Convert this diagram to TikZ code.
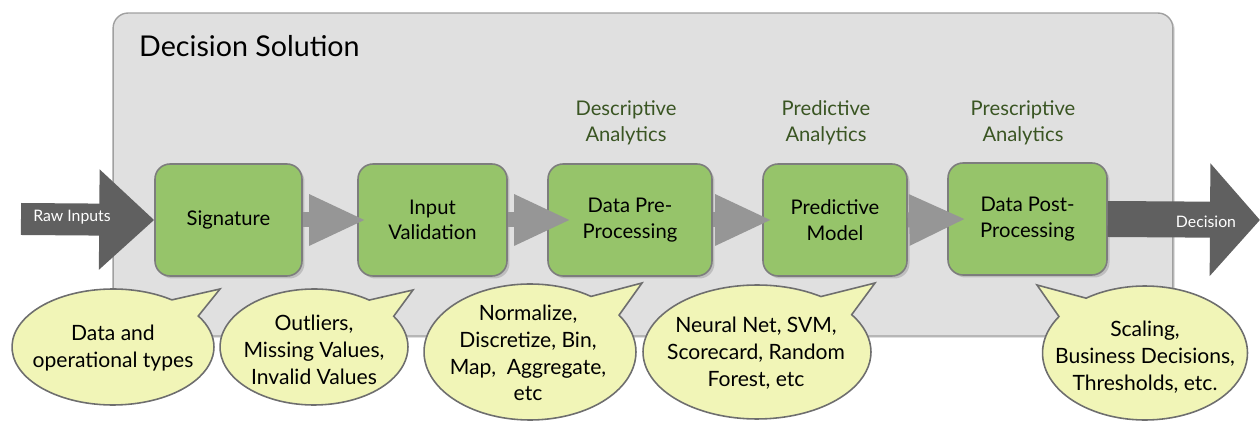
\documentclass[tikz,border=0pt]{standalone}
\usepackage{fontspec}
\setmainfont{Lato}
\usetikzlibrary{arrows.meta,shapes.callouts,shadows}

\definecolor{panelgray}{RGB}{224,224,224}
\definecolor{panelline}{RGB}{160,160,160}
\definecolor{stagegreen}{RGB}{150,196,106}
\definecolor{boxline}{RGB}{125,125,125}
\definecolor{bubblefill}{RGB}{241,245,183}
\definecolor{bubbleline}{RGB}{110,110,110}
\definecolor{darkarrow}{RGB}{96,96,96}
\definecolor{midarrow}{RGB}{150,150,150}
\definecolor{anagreen}{RGB}{58,85,35}

\begin{document}
\begin{tikzpicture}[x=0.02cm,y=-0.02cm,
    panel/.style={draw=panelline,fill=panelgray,rounded corners=0.3cm,line width=0.8pt,
        minimum width=21.2cm,minimum height=6.46cm,
        drop shadow={opacity=0.25,shadow xshift=0.04cm,shadow yshift=-0.04cm}},
    stage/.style={draw=boxline,fill=stagegreen,rounded corners=0.3cm,line width=0.9pt,
        minimum height=2.24cm,align=center,font=\fontsize{11.5}{14.5}\selectfont,
        drop shadow={opacity=0.35,shadow xshift=0.05cm,shadow yshift=-0.05cm}},
    ana/.style={align=center,text=anagreen,font=\fontsize{11.5}{15}\selectfont},
    bubble/.style={ellipse callout,draw=bubbleline,fill=bubblefill,line width=0.9pt,
        inner sep=0pt,callout pointer arc=22},
    bubbletext/.style={align=center,font=\fontsize{12}{15.2}\selectfont},
    flow/.style={draw=midarrow,line width=0.3cm,-{Triangle[length=1.14cm,width=0.94cm]}},
    bigflow/.style={draw=darkarrow},
    biglabel/.style={text=white,font=\fontsize{9}{11}\selectfont}]

    \useasboundingbox (0,0) rectangle (1260,421);

    % Decision solution panel
    \node[panel] (sol) at (643,174.5) {};
    \node[anchor=base west,font=\fontsize{16.3}{20}\selectfont] (title) at (133,57) {Decision Solution};

    % Stages
    \node[stage,minimum width=2.94cm] (sig) at (228.5,220) {Signature};
    \node[stage,minimum width=2.98cm] (val) at (432.5,220) {Input\\Validation};
    \node[stage,minimum width=3.28cm] (pre) at (630,220) {Data Pre-\\Processing};
    \node[stage,minimum width=2.88cm] (mod) at (835,220) {Predictive\\Model};
    \node[stage,minimum width=3.18cm] (post) at (1027.5,219) {Data Post-\\Processing};

    % Analytics labels
    \node[ana] (desc) at (626,123) {Descriptive\\Analytics};
    \node[ana] (pred) at (826,123) {Predictive\\Analytics};
    \node[ana] (presc) at (1023,123) {Prescriptive\\Analytics};

    % Arrows between stages
    \foreach \a/\b/\s in {sig/val/9,val/pre/24,pre/mod/10,mod/post/19}
        \draw[flow] (\a.east) -- ([xshift=\s*0.02cm]\b.west);

    % Raw inputs in, decision out
    \coordinate (in) at (21,219);
    \coordinate (out) at (1260,220);
    \draw[bigflow,line width=0.64cm,-{Triangle[length=1.1cm,width=1.94cm]}] (in) -- (sig.west);
    \draw[bigflow,line width=0.72cm,-{Triangle[length=1.0cm,width=2.2cm]}] (post.east) -- (out);
    \node[biglabel] (raw) at (72,217) {Raw Inputs};
    \node[biglabel] (dec) at (1206,222) {Decision};

    % Speech bubbles
    \node[bubble,minimum width=4.04cm,minimum height=2.32cm,callout absolute pointer={(220,289)}]
        (b1) at (113,347) {};
    \node[bubble,minimum width=3.76cm,minimum height=2.32cm,callout absolute pointer={(413,290)}]
        (b2) at (314,347) {};
    \node[bubble,minimum width=4.24cm,minimum height=2.72cm,callout absolute pointer={(642,283)}]
        (b3) at (530,352) {};
    \node[bubble,minimum width=4.56cm,minimum height=2.68cm,callout absolute pointer={(875,283)}]
        (b4) at (757,352) {};
    \node[bubble,minimum width=4.1cm,minimum height=2.68cm,callout absolute pointer={(1037,285)}]
        (b5) at (1145,353) {};

    \node[bubbletext] (b1txt) at (113,348) {Data and\\operational types};
    \node[bubbletext] (b2txt) at (314,350) {Outliers,\\Missing Values,\\Invalid Values};
    \node[bubbletext] (b3txt) at (528,353) {Normalize,\\Discretize, Bin,\\Map,~ Aggregate,\\etc};
    \node[bubbletext] (b4txt) at (756,353) {Neural Net, SVM,\\Scorecard, Random\\Forest, etc};
    \node[bubbletext] (b5txt) at (1145,357) {Scaling,\\Business Decisions,\\Thresholds, etc.};
\end{tikzpicture}
\end{document}
